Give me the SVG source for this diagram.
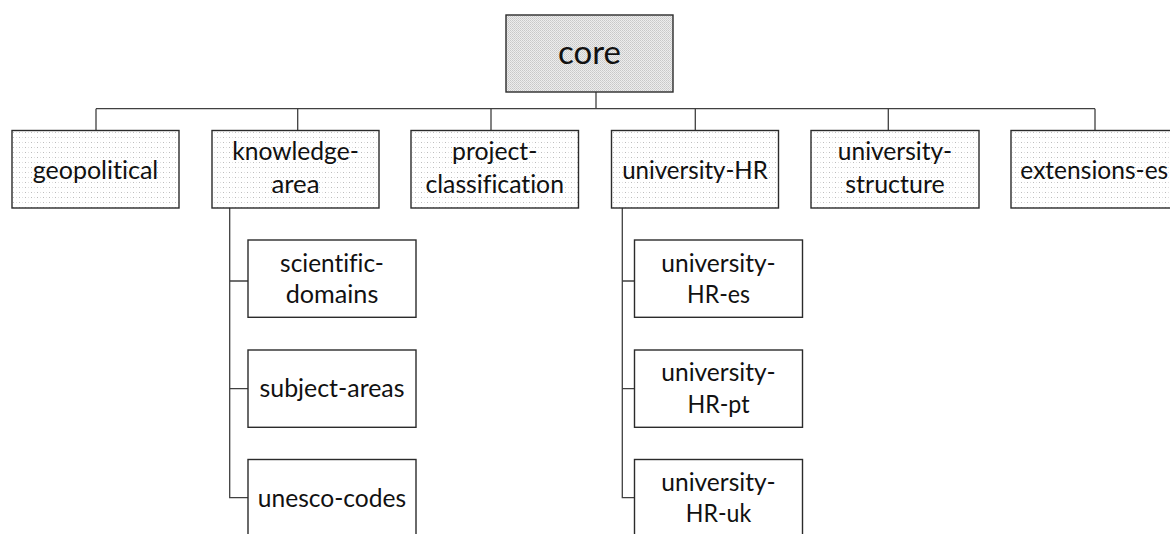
<svg xmlns="http://www.w3.org/2000/svg" width="1170" height="534" viewBox="0 0 1170 534">
<defs>
<pattern id="dots" x="0" y="0" width="6" height="5" patternUnits="userSpaceOnUse">
<rect width="6" height="5" fill="#ffffff"/>
<rect x="1" y="2" width="1" height="1" fill="#bdbdbd"/>
<rect x="4" y="2" width="1" height="1" fill="#e0e0e0"/>
</pattern>
<pattern id="dense" x="0" y="0" width="2" height="2" patternUnits="userSpaceOnUse">
<rect width="2" height="2" fill="#ededed"/>
<rect x="0" y="0" width="1" height="1" fill="#c8c8c8"/>
<rect x="1" y="1" width="1" height="1" fill="#d2d2d2"/>
</pattern>
</defs>
<style>
.box{stroke:#2b2b2b;stroke-width:1.4}
.top{fill:url(#dots)}
.core{fill:url(#dense)}
.child{fill:#ffffff}
.lbl{font-family:Lato,"Liberation Sans",sans-serif;font-size:25px;fill:#111;text-anchor:middle;font-variant-ligatures:none}
.big{font-size:33px}
.con{fill:none;stroke:#404040;stroke-width:1.3}
</style>
<g id="connectors" class="con">
<path d="M596,92 V108.7"/>
<path d="M96,108.7 H1095"/>
<path d="M96,108.7 V130.5 M297.7,108.7 V130.5 M491,108.7 V130.5 M695.3,108.7 V130.5 M888.3,108.7 V130.5 M1095,108.7 V130.5"/>
<path d="M229.7,208 V497.7 H248 M229.7,281 H248 M229.7,388.7 H248"/>
<path d="M622.3,208 V497.7 H634.5 M622.3,281 H634.5 M622.3,388.7 H634.5"/>
</g>
<g id="core">
<rect class="box core" x="506" y="15" width="167" height="77"/>
<text class="lbl big" x="589.5" y="63.5" textLength="62.9" lengthAdjust="spacingAndGlyphs">core</text>
</g>
<g id="geopolitical">
<rect class="box top" x="12" y="130.5" width="167" height="77.5"/>
<text class="lbl" x="95.5" y="179" textLength="125.6" lengthAdjust="spacingAndGlyphs">geopolitical</text>
</g>
<g id="knowledge-area">
<rect class="box top" x="212" y="130.5" width="167" height="77.5"/>
<text class="lbl" x="295.5" y="160" textLength="126.7" lengthAdjust="spacingAndGlyphs">knowledge-</text>
<text class="lbl" x="295.5" y="193" textLength="48.1" lengthAdjust="spacingAndGlyphs">area</text>
</g>
<g id="project-classification">
<rect class="box top" x="411" y="130.5" width="167.5" height="77.5"/>
<text class="lbl" x="494.7" y="160" textLength="85.4" lengthAdjust="spacingAndGlyphs">project-</text>
<text class="lbl" x="494.7" y="193" textLength="138.5" lengthAdjust="spacingAndGlyphs">classification</text>
</g>
<g id="university-HR">
<rect class="box top" x="611.5" y="130.5" width="167" height="77.5"/>
<text class="lbl" x="695" y="179" textLength="145.6" lengthAdjust="spacingAndGlyphs">university-HR</text>
</g>
<g id="university-structure">
<rect class="box top" x="811" y="130.5" width="168" height="77.5"/>
<text class="lbl" x="895" y="160" textLength="114.5" lengthAdjust="spacingAndGlyphs">university-</text>
<text class="lbl" x="895" y="193" textLength="99.5" lengthAdjust="spacingAndGlyphs">structure</text>
</g>
<g id="extensions-es">
<rect class="box top" x="1011" y="130.5" width="167" height="77.5"/>
<text class="lbl" x="1094.3" y="179" textLength="147.9" lengthAdjust="spacingAndGlyphs">extensions-es</text>
</g>
<g id="scientific-domains">
<rect class="box child" x="248" y="240" width="168" height="77.3"/>
<text class="lbl" x="332" y="271.5" textLength="103.8" lengthAdjust="spacingAndGlyphs">scientific-</text>
<text class="lbl" x="332" y="303" textLength="92.7" lengthAdjust="spacingAndGlyphs">domains</text>
</g>
<g id="subject-areas">
<rect class="box child" x="248" y="350" width="168" height="77.3"/>
<text class="lbl" x="332" y="397" textLength="145" lengthAdjust="spacingAndGlyphs">subject-areas</text>
</g>
<g id="unesco-codes">
<rect class="box child" x="248" y="459.5" width="168" height="77.3"/>
<text class="lbl" x="332" y="507" textLength="148.3" lengthAdjust="spacingAndGlyphs">unesco-codes</text>
</g>
<g id="university-HR-es">
<rect class="box child" x="634.5" y="240" width="168" height="77.3"/>
<text class="lbl" x="718.5" y="271.5" textLength="114.5" lengthAdjust="spacingAndGlyphs">university-</text>
<text class="lbl" x="718.5" y="303" textLength="63" lengthAdjust="spacingAndGlyphs">HR-es</text>
</g>
<g id="university-HR-pt">
<rect class="box child" x="634.5" y="350" width="168" height="77.3"/>
<text class="lbl" x="718.5" y="381" textLength="114.5" lengthAdjust="spacingAndGlyphs">university-</text>
<text class="lbl" x="718.5" y="413" textLength="62.2" lengthAdjust="spacingAndGlyphs">HR-pt</text>
</g>
<g id="university-HR-uk">
<rect class="box child" x="634.5" y="459.5" width="168" height="77.3"/>
<text class="lbl" x="718.5" y="490.5" textLength="114.5" lengthAdjust="spacingAndGlyphs">university-</text>
<text class="lbl" x="718.5" y="522" textLength="65.4" lengthAdjust="spacingAndGlyphs">HR-uk</text>
</g>
</svg>
